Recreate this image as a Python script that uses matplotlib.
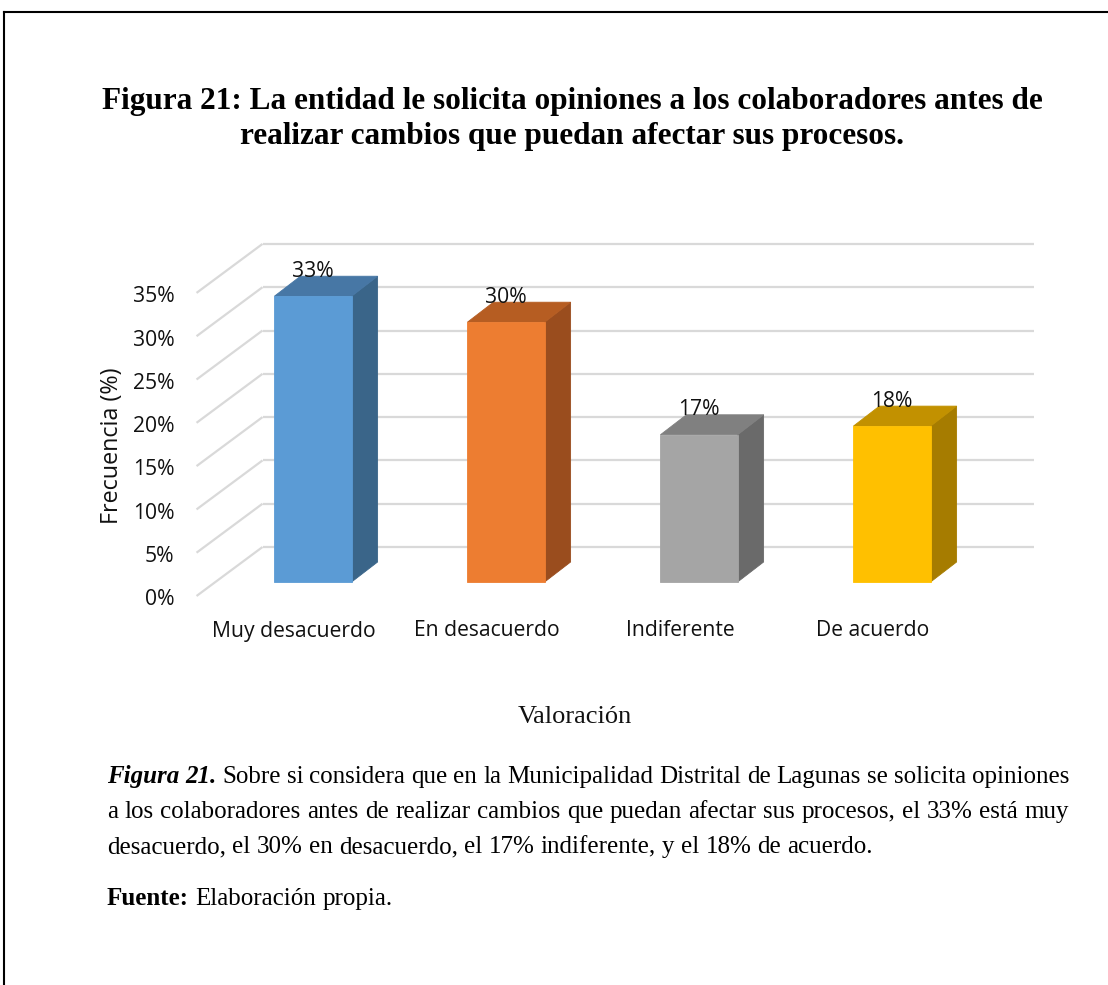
import matplotlib
matplotlib.use("Agg")
import matplotlib.pyplot as plt
from matplotlib.patches import Polygon
from matplotlib.lines import Line2D

# ---- data -------------------------------------------------------------
categories = ["Muy desacuerdo", "En desacuerdo", "Indiferente", "De acuerdo"]
percentages = [33, 30, 17, 18]
y_ticks = [0, 5, 10, 15, 20, 25, 30, 35]
y_tick_labels = [f"{t}%" for t in y_ticks]

title_lines = [
    "Figura 21: La entidad le solicita opiniones a los colaboradores antes de",
    "realizar cambios que puedan afectar sus procesos.",
]
x_axis_title = "Valoración"
y_axis_title = "Frecuencia (%)"

# ---- colours ----------------------------------------------------------
front_colors = ["#5B9BD5", "#ED7D31", "#A5A5A5", "#FFC000"]
top_colors = ["#4777A5", "#B65D22", "#808080", "#C29100"]
side_colors = ["#3A6589", "#9A4D1E", "#6A6A6A", "#A67C00"]
grid_color = "#D9D9D9"

W, H = 1108, 985
fig = plt.figure(figsize=(W / 100, H / 100), dpi=100)

CHART_FONT = ["Open Sans", "DejaVu Sans"]
SERIF = ["Liberation Serif", "DejaVu Serif"]
LABEL_SIZE = 15.2

# ---- plot area: one category per unit, one percent per unit -----------
X0_PX, DX_PX = 313, 193      # first bar centre, bar pitch (pixels)
Y0_PX, DY_PX = 582, 8.66     # bar baseline, pixels per percent
AX_L, AX_R, AX_T, AX_B = 150, 1060, 230, 660
ax = fig.add_axes([AX_L / W, 1 - AX_B / H, (AX_R - AX_L) / W, (AX_B - AX_T) / H])
ax.set_xlim((AX_L - X0_PX) / DX_PX, (AX_R - X0_PX) / DX_PX)
ax.set_ylim((Y0_PX - AX_B) / DY_PX, (Y0_PX - AX_T) / DY_PX)
ax.axis("off")

# oblique projection offsets (data units)
BACK_DX, BACK_DY = 47 / DX_PX, 35 / DY_PX       # back wall relative to bar faces
FRONT_DX, FRONT_DY = -19 / DX_PX, -14 / DY_PX   # front edge relative to bar faces
BAR_DX, BAR_DY = 26 / DX_PX, 20 / DY_PX         # bar depth
BAR_HALF = 0.2
WALL_LEFT, WALL_RIGHT = -0.505, 3.49

# gridlines on the back wall and the left side wall
for t in y_ticks:
    ax.plot([WALL_LEFT + BACK_DX, WALL_RIGHT + BACK_DX], [t + BACK_DY] * 2,
            color=grid_color, lw=1.6, solid_capstyle="butt", zorder=1)
    ax.plot([WALL_LEFT + FRONT_DX, WALL_LEFT + BACK_DX], [t + FRONT_DY, t + BACK_DY],
            color=grid_color, lw=1.6, solid_capstyle="butt", zorder=1)

for t, lab in zip(y_ticks, y_tick_labels):
    ax.text(WALL_LEFT + FRONT_DX - 22 / DX_PX, t + FRONT_DY - 0.45, lab,
            ha="right", va="center", fontsize=LABEL_SIZE, family=CHART_FONT, color="#111111")

# 3-D bars: side, top and front faces
for i, (v, fc, tc, sc) in enumerate(zip(percentages, front_colors, top_colors, side_colors)):
    xl, xr = i - BAR_HALF, i + BAR_HALF
    side = Polygon([(xr, 0), (xr + BAR_DX, BAR_DY), (xr + BAR_DX, v + BAR_DY), (xr, v)],
                   closed=True, facecolor=sc, edgecolor=sc, lw=0.6, zorder=3)
    top = Polygon([(xl, v), (xr, v), (xr + BAR_DX, v + BAR_DY), (xl + BAR_DX, v + BAR_DY)],
                  closed=True, facecolor=tc, edgecolor=tc, lw=0.6, zorder=3)
    front = Polygon([(xl, 0), (xr, 0), (xr, v), (xl, v)],
                    closed=True, facecolor=fc, edgecolor=fc, lw=0.6, zorder=4)
    for p in (side, top, front):
        ax.add_patch(p)
    ax.text(i, v + 2.9, f"{v}%", ha="center", va="center", fontsize=LABEL_SIZE,
            family=CHART_FONT, color="#111111", zorder=5)

for i, cat in enumerate(categories):
    ax.text(i + FRONT_DX, (Y0_PX - 631) / DY_PX, cat, ha="center", va="center",
            fontsize=LABEL_SIZE, family=CHART_FONT, color="#111111")

fig.text(112 / W, 1 - 446 / H, y_axis_title, rotation=90, ha="center", va="center",
         fontsize=16.8, family=CHART_FONT, color="#111111")
fig.text(575 / W, 1 - 723 / H, x_axis_title, ha="center", va="baseline",
         fontsize=19, family=SERIF, color="#111111")

# ---- title --------------------------------------------------------------
for line, base in zip(title_lines, [109, 144]):
    fig.text(572 / W, 1 - base / H, line, ha="center", va="baseline",
             fontsize=22.5, fontweight="bold", family=SERIF, color="black")

# ---- caption with justified lines ---------------------------------------
CAP_SIZE = 18
renderer = fig.canvas.get_renderer()
regular = dict(family=SERIF, fontsize=CAP_SIZE)
bold = dict(family=SERIF, fontsize=CAP_SIZE, fontweight="bold")
bold_italic = dict(family=SERIF, fontsize=CAP_SIZE, fontweight="bold", style="italic")


def set_line(base_px, pieces, x_start, x_end=None):
    words = []
    for text, style in pieces:
        for w in text.split():
            words.append((w, style))
    arts, widths = [], []
    for w, style in words:
        t = fig.text(0, 1 - base_px / H, w, va="baseline", ha="left", color="black", **style)
        arts.append(t)
        widths.append(t.get_window_extent(renderer).width)
    space = 0.25 * CAP_SIZE * 100 / 72
    gap = space if x_end is None else (x_end - x_start - sum(widths)) / (len(words) - 1)
    x = x_start
    for t, wd in zip(arts, widths):
        t.set_x(x / W)
        x += wd + gap


set_line(783, [("Figura 21.", bold_italic),
               ("Sobre si considera que en la Municipalidad Distrital de Lagunas se solicita opiniones", regular)],
         107, 1069)
set_line(818, [("a los colaboradores antes de realizar cambios que puedan afectar sus procesos, el 33% está muy", regular)],
         107, 1069)
set_line(853, [("desacuerdo, el 30% en desacuerdo, el 17% indiferente, y el 18% de acuerdo.", regular)], 107)
set_line(905, [("Fuente:", bold), ("Elaboración propia.", regular)], 107)

# ---- page frame ----------------------------------------------------------
fig.add_artist(Line2D([4 / W, 4 / W], [1 - 12 / H, 0], color="black", lw=1.5,
                      transform=fig.transFigure))
fig.add_artist(Line2D([4 / W, 1], [1 - 12 / H, 1 - 12 / H], color="black", lw=1.5,
                      transform=fig.transFigure))

fig.savefig("out.png", dpi=100, facecolor="white")
